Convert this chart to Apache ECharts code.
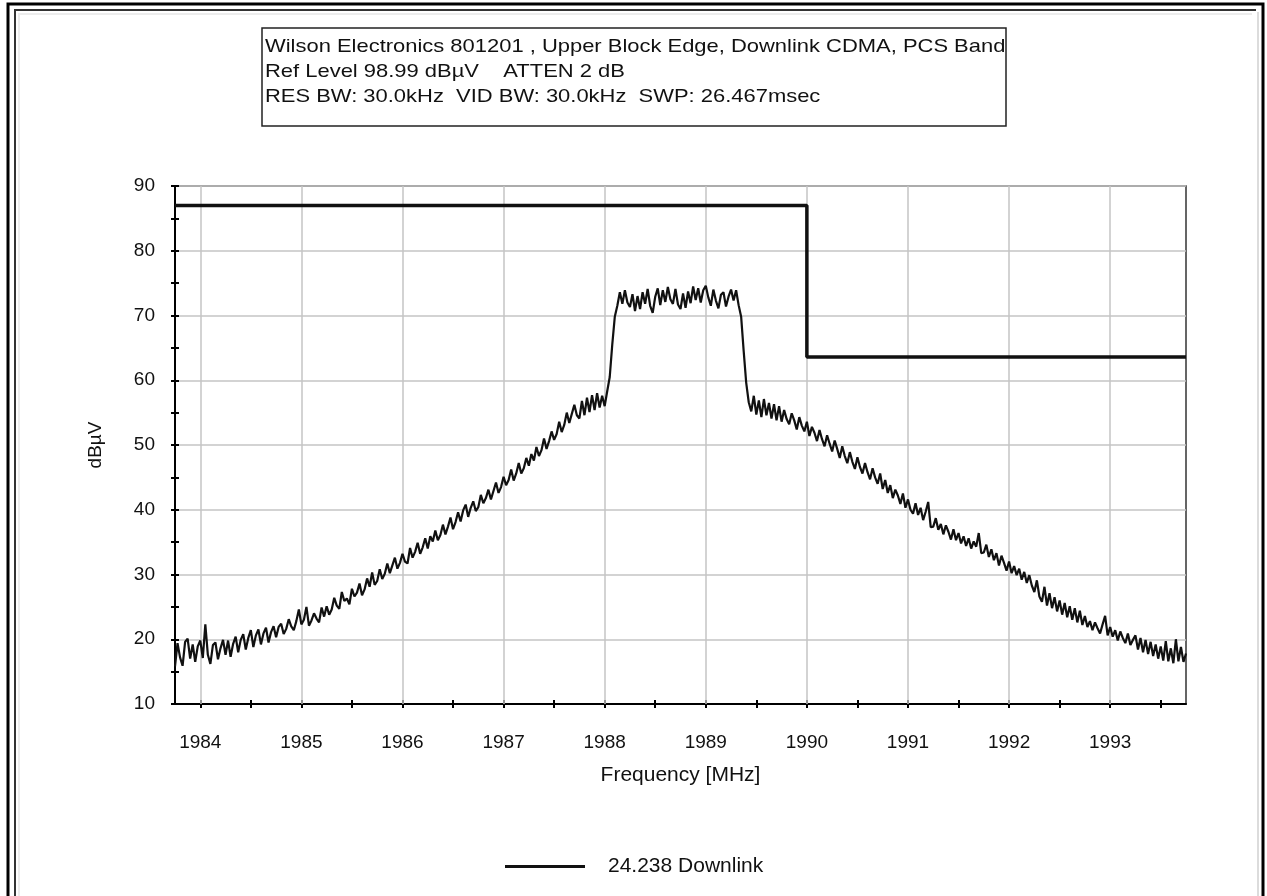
<!DOCTYPE html>
<html>
<head>
<meta charset="utf-8">
<title>Upper Block Edge</title>
<script src="https://cdn.jsdelivr.net/npm/echarts@6.0.0/dist/echarts.min.js"></script>
<style>
  html, body { margin: 0; padding: 0; background: #fff; }
  #main { width: 1267px; height: 896px; }
</style>
</head>
<body>
<div id="main"></div>
<script>
// sweep: start frequency and step between points (MHz)
var sweepStart = 1983.75
var sweepStep = 0.025
// measured level, dBuV (one row = 0.5 MHz)
var level = [
  15.8, 19.4, 17.2, 15.9, 19.6, 20.1, 17.0, 19.2, 16.5, 18.9, 19.8, 17.1, 22.3, 17.6, 16.2, 19.1, 19.5, 16.9, 18.6, 19.9,
  17.6, 19.8, 17.3, 19.3, 20.4, 18.0, 19.9, 20.8, 18.4, 20.2, 21.4, 18.8, 20.6, 21.5, 19.2, 20.9, 21.8, 19.5, 21.1, 22.0,
  20.3, 21.9, 22.4, 20.8, 21.6, 23.1, 22.0, 21.4, 22.8, 24.6, 22.3, 23.0, 25.0, 22.1, 22.9, 24.0, 23.2, 22.6, 24.9, 23.5,
  25.1, 23.8, 24.6, 26.4, 25.2, 24.7, 27.3, 25.9, 26.3, 25.4, 27.8, 26.6, 27.2, 28.6, 26.8, 27.7, 29.4, 28.1, 30.3, 28.4,
  29.0, 30.8, 29.3, 30.1, 31.7, 30.2, 31.4, 32.6, 30.9, 31.8, 33.2, 32.0, 31.7, 34.1, 32.6, 33.5, 34.9, 33.2, 34.2, 35.6,
  34.0, 35.9, 35.1, 36.8, 35.3, 36.1, 37.7, 36.2, 37.4, 38.8, 37.0, 38.1, 39.6, 38.2, 39.9, 40.8, 38.9, 40.3, 41.3, 39.8,
  40.4, 42.3, 41.0, 41.8, 43.1, 41.6, 42.9, 44.2, 42.6, 43.5, 45.1, 43.8, 44.6, 46.2, 44.5, 45.6, 47.2, 45.6, 46.4, 48.0,
  46.8, 48.6, 47.6, 49.7, 48.3, 49.2, 51.0, 49.4, 50.6, 52.1, 50.8, 51.7, 53.6, 52.0, 53.1, 55.0, 53.4, 54.8, 56.2, 54.6,
  54.1, 56.8, 54.6, 57.3, 55.1, 57.7, 55.4, 58.0, 55.8, 57.6, 56.0, 58.3, 60.5, 65.5, 69.8, 71.5, 73.6, 71.8, 73.9, 72.0,
  71.3, 73.3, 70.7, 73.0, 71.0, 73.6, 71.8, 74.1, 71.5, 70.4, 72.9, 74.2, 71.6, 73.9, 72.1, 74.4, 72.5, 71.8, 74.1, 71.7,
  71.0, 73.4, 71.2, 73.7, 71.9, 74.5, 72.4, 74.2, 72.0, 73.9, 74.6, 72.8, 71.5, 74.0, 72.3, 71.1, 73.2, 73.6, 71.4, 72.9,
  74.0, 72.3, 73.9, 71.6, 69.8, 64.5, 59.6, 56.6, 55.2, 57.6, 54.7, 56.9, 54.3, 57.1, 54.6, 56.5, 54.1, 56.3, 53.8, 56.0,
  53.6, 55.4, 54.0, 53.2, 54.9, 53.8, 52.4, 54.3, 53.0, 52.1, 53.6, 51.4, 52.8, 51.9, 50.6, 52.3, 50.9, 49.8, 51.5, 50.2,
  49.0, 50.7, 49.4, 48.0, 49.8, 48.3, 47.2, 48.9, 47.4, 46.3, 48.1, 46.6, 45.6, 47.2, 45.8, 44.7, 46.4, 45.0, 44.0, 45.6,
  43.2, 44.6, 42.6, 43.8, 41.8, 43.1, 42.2, 40.9, 42.5, 40.3, 41.6, 40.0, 39.4, 41.0, 39.2, 40.3, 38.4, 39.7, 41.2, 37.3,
  37.4, 38.7, 36.9, 37.8, 36.2, 37.6, 36.6, 35.4, 37.0, 35.3, 36.4, 34.8, 35.9, 34.4, 35.6, 34.0, 35.1, 34.3, 36.4, 33.3,
  33.4, 34.6, 32.7, 33.9, 32.2, 33.3, 31.4, 32.9, 31.8, 30.6, 32.0, 30.2, 31.3, 29.9, 30.9, 29.2, 30.4, 28.7, 29.9, 28.3,
  27.3, 29.1, 26.6, 25.8, 28.1, 25.2, 27.1, 24.8, 26.5, 24.3, 26.0, 23.8, 25.6, 23.4, 25.1, 23.0, 24.8, 22.6, 24.4, 22.2,
  23.6, 21.9, 22.8, 21.4, 22.6, 21.7, 20.9, 22.3, 23.6, 20.6, 21.9, 20.4, 21.4, 19.8, 21.2, 20.2, 19.4, 20.9, 19.1, 19.9,
  20.6, 18.4, 20.2, 18.0, 19.9, 17.7, 19.6, 17.4, 19.2, 17.0, 18.9, 16.7, 19.7, 16.6, 18.6, 16.3, 20.0, 16.6, 18.8, 16.5,
  17.8
]
// limit line
var limitFreq = [1983.75, 1990, 1990, 1993.75]
var limitLevel = [87, 87, 63.6, 63.6]
// axis ticks
var xMajor = [1984, 1985, 1986, 1987, 1988, 1989, 1990, 1991, 1992, 1993]
var xMinor = [1984.5, 1985.5, 1986.5, 1987.5, 1988.5, 1989.5, 1990.5, 1991.5, 1992.5, 1993.5]
var titleLines = [
  'Wilson Electronics 801201 , Upper Block Edge, Downlink CDMA, PCS Band',
  'Ref Level 98.99 dB\u00b5V    ATTEN 2 dB',
  'RES BW: 30.0kHz  VID BW: 30.0kHz  SWP: 26.467msec'
]
var seriesName = '24.238 Downlink'

var font = 'Arial, "Liberation Sans", sans-serif'

var trace = level.map(function (v, i) {
  return [+(sweepStart + i * sweepStep).toFixed(3), v]
})
var limit = limitFreq.map(function (f, i) {
  return [f, limitLevel[i]]
})
var allTicks = xMajor.concat(xMinor).sort(function (a, b) { return a - b })

var chart = echarts.init(document.getElementById('main'))

// header lines, a little wider than plain Arial like the original
var titleText = titleLines.map(function (t, i) {
  return {
    type: 'text',
    x: 265,
    y: 37 + i * 25,
    scaleX: 1.155,
    style: { text: t, font: '19px ' + font, fill: '#111' }
  }
})

var option = {
  backgroundColor: '#fff',
  animation: false,
  textStyle: { fontFamily: font },
  grid: {
    left: 175, right: 81, top: 186, bottom: 192,
    show: true, borderColor: '#333', borderWidth: 1.5,
    outerBoundsMode: 'none'
  },
  legend: {
    data: [seriesName],
    left: 500, top: 851,
    icon: 'rect', itemWidth: 80, itemHeight: 3,
    textStyle: { fontSize: 21, color: '#111', padding: [0, 0, 0, 18] }
  },
  xAxis: [
    {
      type: 'value', min: 1983.75, max: 1993.75,
      name: 'Frequency [MHz]', nameLocation: 'middle', nameGap: 61,
      nameTextStyle: { fontSize: 21, color: '#111' },
      axisLine: { lineStyle: { color: '#000', width: 2 } },
      axisTick: { customValues: allTicks, length: 4, lineStyle: { color: '#000', width: 2 } },
      axisLabel: {
        customValues: xMajor, fontSize: 19, color: '#111', margin: 29,
        formatter: function (v) { return String(v) }
      },
      splitLine: { show: false }
    },
    {
      type: 'value', min: 1983.75, max: 1993.75, position: 'bottom',
      axisLine: { show: false },
      axisTick: { customValues: allTicks, inside: true, length: 4, lineStyle: { color: '#000', width: 2 } },
      axisLabel: { show: false },
      splitLine: { show: false }
    }
  ],
  yAxis: [
    {
      type: 'value', min: 10, max: 90, interval: 10,
      name: 'dB\u00b5V', nameLocation: 'middle', nameGap: 70, nameRotate: 90,
      nameTextStyle: { fontSize: 19, color: '#111' },
      axisLine: { show: true, lineStyle: { color: '#000', width: 2 } },
      axisTick: { show: true, length: 4, lineStyle: { color: '#000', width: 2 } },
      minorTick: { show: true, splitNumber: 2, length: 4, lineStyle: { color: '#000', width: 2 } },
      axisLabel: { fontSize: 19, color: '#111', margin: 20 },
      splitLine: { lineStyle: { color: '#c4c4c4', width: 1.5 } }
    },
    {
      type: 'value', min: 10, max: 90, interval: 10, position: 'left',
      axisLine: { show: false },
      axisTick: { show: true, inside: true, length: 4, lineStyle: { color: '#000', width: 2 } },
      minorTick: { show: true, splitNumber: 2, length: 4, lineStyle: { color: '#000', width: 2 } },
      axisLabel: { show: false },
      splitLine: { show: false }
    }
  ],
  series: [
    {
      // vertical grid lines at the labelled frequencies
      type: 'line', data: [], silent: true, z: 1,
      markLine: {
        silent: true, symbol: 'none', z: 1, label: { show: false },
        lineStyle: { color: '#c4c4c4', width: 1.5, type: 'solid' },
        data: xMajor.map(function (f) { return { xAxis: f } })
      }
    },
    {
      name: 'limit', type: 'line', data: limit, z: 3,
      showSymbol: false, lineStyle: { color: '#111', width: 3.5 }
    },
    {
      name: seriesName, type: 'line', data: trace, z: 4,
      showSymbol: false, itemStyle: { color: '#111' },
      lineStyle: { color: '#111', width: 2.2 }
    }
  ],
  graphic: [
    // outer frame
    { type: 'polyline', shape: { points: [[8, 900], [8, 4], [1263, 4], [1263, 900]] }, style: { stroke: '#000', lineWidth: 3, fill: null } },
    { type: 'polyline', shape: { points: [[15, 900], [15, 10], [1256, 10]] }, style: { stroke: '#333', lineWidth: 2, fill: null } },
    { type: 'polyline', shape: { points: [[19, 900], [19, 14], [1252, 14]] }, style: { stroke: '#ececec', lineWidth: 2, fill: null } },
    { type: 'polyline', shape: { points: [[1258, 12], [1258, 900]] }, style: { stroke: '#dcdcdc', lineWidth: 2, fill: null } },
    // header box
    { type: 'rect', shape: { x: 262, y: 28, width: 744, height: 98 }, style: { stroke: '#222', lineWidth: 1.5, fill: '#fff' } }
  ].concat(titleText)
}

chart.setOption(option)
</script>
</body>
</html>
